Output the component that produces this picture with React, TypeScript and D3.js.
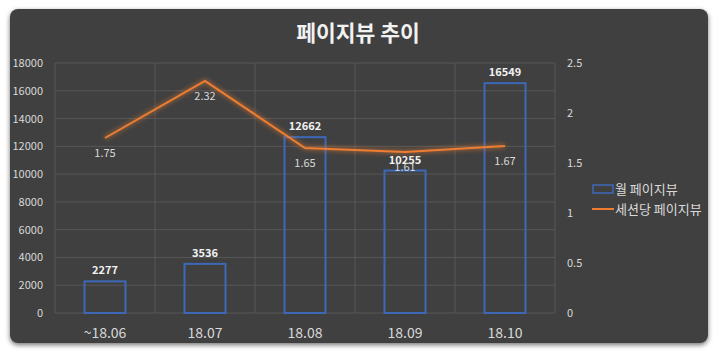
import React from "react";
import * as d3 from "d3";

const categories = ["~18.06", "18.07", "18.08", "18.09", "18.10"];
const pageViews = [2277, 3536, 12662, 10255, 16549];
const perSession = [1.75, 2.32, 1.65, 1.61, 1.67];
const leftTicks = [0, 2000, 4000, 6000, 8000, 10000, 12000, 14000, 16000, 18000];
const rightTicks = [0, 0.5, 1, 1.5, 2, 2.5];
const title = "페이지뷰 추이";
const seriesNames = ["월 페이지뷰", "세션당 페이지뷰"];

const W = 720, H = 355;
const plot = { left: 55, right: 555, top: 63, bottom: 313 };
const FONT = "'Noto Sans CJK KR', 'Noto Sans', sans-serif";
const TXT = "#d9d9d9";

export default function App() {
  const x = d3.scaleBand().domain(categories).range([plot.left, plot.right]).paddingInner(0).paddingOuter(0);
  const yL = d3.scaleLinear().domain([0, 18000]).range([plot.bottom, plot.top]);
  const yR = d3.scaleLinear().domain([0, 2.5]).range([plot.bottom, plot.top]);
  const bw = 41;
  const cx = (c: string) => (x(c) as number) + x.bandwidth() / 2;
  const line = d3.line<number>().x((_, i) => cx(categories[i])).y((d) => yR(d));
  const bounds = d3.range(categories.length + 1).map((i) => plot.left + i * x.bandwidth());

  return (
    <svg width={W} height={H} style={{ position: "absolute", left: 0, top: 0 }} fontFamily={FONT}>
      <defs>
        <filter id="shadow" x="-5%" y="-5%" width="110%" height="115%">
          <feDropShadow dx="0" dy="2" stdDeviation="2.5" floodColor="#000" floodOpacity="0.55" />
        </filter>
        <filter id="glow" x="-10%" y="-30%" width="120%" height="160%">
          <feGaussianBlur stdDeviation="2.5" result="b" />
          <feMerge>
            <feMergeNode in="b" />
            <feMergeNode in="SourceGraphic" />
          </feMerge>
        </filter>
      </defs>
      <rect x={0} y={0} width={W} height={H} fill="#ffffff" />
      <rect x={10} y={9} width={698} height={334} rx={8} fill="#404040" filter="url(#shadow)" />
      <text x={358} y={41} textAnchor="middle" fill="#f2f2f2" fontSize={21.5} fontWeight="bold">{title}</text>

      {leftTicks.map((t) => (
        <line key={"h" + t} x1={plot.left} x2={plot.right} y1={yL(t)} y2={yL(t)} stroke="#575757" strokeWidth={1} />
      ))}
      {bounds.map((b, i) => (
        <line key={"v" + i} x1={b} x2={b} y1={plot.top} y2={plot.bottom} stroke="#575757" strokeWidth={1} />
      ))}

      {leftTicks.map((t) => (
        <text key={"l" + t} x={43} y={yL(t) + 4} textAnchor="end" fill={TXT} fontSize={11}>{t}</text>
      ))}
      {rightTicks.map((t) => (
        <text key={"r" + t} x={567} y={yR(t) + 4} textAnchor="start" fill={TXT} fontSize={11}>{t}</text>
      ))}
      {categories.map((c) => (
        <text key={"c" + c} x={cx(c)} y={338} textAnchor="middle" fill={TXT} fontSize={14}>{c}</text>
      ))}

      {pageViews.map((v, i) => (
        <rect key={"b" + i} x={cx(categories[i]) - bw / 2} y={yL(v)} width={bw} height={plot.bottom - yL(v)} fill="none" stroke="#3d68b8" strokeWidth={2} />
      ))}
      {pageViews.map((v, i) => (
        <text key={"bl" + i} x={cx(categories[i])} y={yL(v) - 7} textAnchor="middle" fill="#f2f2f2" fontSize={11} fontWeight="bold">{v}</text>
      ))}

      <path d={line(perSession) || ""} fill="none" stroke="#ed7d31" strokeWidth={2} filter="url(#glow)" />
      {perSession.map((v, i) => (
        <text key={"pl" + i} x={cx(categories[i])} y={yR(v) + 19} textAnchor="middle" fill={TXT} fontSize={11}>{v}</text>
      ))}

      <rect x={593} y={185} width={20} height={8} fill="none" stroke="#3d68b8" strokeWidth={1.5} />
      <text x={615} y={194} fill={TXT} fontSize={13}>{seriesNames[0]}</text>
      <line x1={592} x2={614} y1={209} y2={209} stroke="#ed7d31" strokeWidth={2} />
      <text x={615} y={214} fill={TXT} fontSize={13}>{seriesNames[1]}</text>
    </svg>
  );
}
